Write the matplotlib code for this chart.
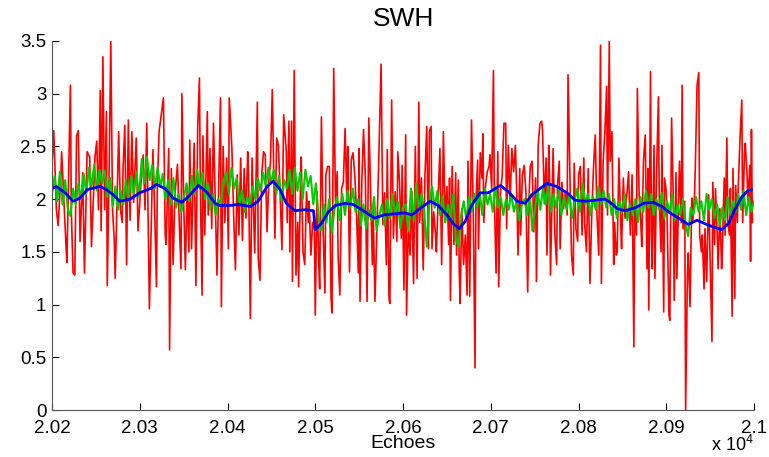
import numpy as np
import matplotlib.pyplot as plt

plt.rcParams['font.family'] = ['Liberation Sans', 'DejaVu Sans']
plt.rcParams['mathtext.default'] = 'regular'

# red series : (echo, SWH) pairs
red_x = [20200, 20202, 20205, 20207, 20210, 20211, 20216, 20217, 20221, 20222,
         20224, 20226, 20228, 20230, 20232, 20235, 20237, 20240, 20243, 20245,
         20249, 20251, 20253, 20255, 20256, 20258, 20260, 20262, 20263, 20265,
         20267, 20269, 20271, 20272, 20276, 20278, 20280, 20281, 20283, 20285,
         20287, 20289, 20291, 20293, 20296, 20298, 20301, 20304, 20306, 20308,
         20311, 20315, 20317, 20319, 20320, 20322,
         20327, 20329, 20330, 20333, 20334, 20336, 20338, 20340, 20343, 20345,
         20347, 20348, 20350, 20352, 20354, 20356, 20357, 20359, 20362, 20364,
         20366, 20368, 20369, 20371, 20372, 20374, 20377, 20378, 20380, 20382,
         20384, 20386, 20388, 20390, 20392, 20393, 20395, 20397, 20399, 20401,
         20402, 20405, 20407, 20409, 20411, 20413, 20415, 20417, 20419, 20421,
         20423, 20424, 20426, 20428, 20430, 20431, 20434, 20435, 20437, 20439,
         20441, 20443, 20445, 20447, 20449, 20451, 20454, 20456, 20458, 20460,
         20462, 20464,
         20467, 20468, 20470, 20471, 20473, 20474, 20476, 20478, 20480, 20481,
         20483, 20484, 20486, 20488, 20490, 20492, 20493, 20495, 20497, 20499,
         20500, 20502, 20504, 20505, 20507, 20509, 20511, 20512, 20514, 20516,
         20518, 20519, 20521, 20523, 20525, 20526, 20528, 20530, 20532, 20534,
         20536, 20537, 20539, 20541, 20543, 20545, 20547, 20549, 20550, 20551,
         20553, 20555, 20557, 20559, 20561, 20563, 20565, 20566, 20568, 20570,
         20572, 20575, 20577, 20579, 20581, 20582, 20584, 20585, 20587, 20589,
         20591, 20593, 20594, 20596, 20598, 20599, 20601,
         20603, 20604, 20606, 20608, 20610, 20612, 20614, 20616, 20618, 20619,
         20621, 20623, 20625, 20627, 20629, 20630, 20632, 20633, 20635, 20637,
         20638, 20640, 20642, 20644, 20646, 20648, 20650, 20652, 20653, 20654,
         20656, 20658, 20660, 20661, 20663, 20664, 20665, 20667, 20669, 20671,
         20673, 20674, 20676, 20678, 20680, 20682, 20683, 20685, 20686, 20688,
         20690, 20691, 20692, 20694, 20696, 20698, 20699, 20701, 20703, 20704,
         20706, 20708, 20709, 20711, 20713, 20715, 20717, 20718, 20720, 20722,
         20724, 20726, 20728, 20730, 20731, 20733, 20734, 20736, 20738,
         20740, 20742, 20744, 20745, 20747, 20749, 20751, 20752, 20754, 20756,
         20758, 20759, 20761, 20763, 20764, 20766, 20767, 20768, 20770, 20771,
         20773, 20775, 20776, 20778, 20779, 20781, 20783, 20785, 20787, 20788,
         20790, 20792, 20794, 20795, 20797, 20799, 20800, 20802, 20804, 20806,
         20807, 20809, 20811, 20813, 20815, 20817, 20819, 20821, 20823, 20825,
         20826, 20828, 20830, 20832, 20833, 20835, 20836, 20838, 20840, 20841,
         20843, 20844, 20846, 20848, 20849, 20851, 20853, 20855, 20857, 20859,
         20861, 20863, 20864, 20866, 20867, 20869, 20871, 20872, 20874,
         20876, 20878, 20879, 20880, 20882, 20883, 20884, 20886, 20887, 20889,
         20891, 20892, 20894, 20895, 20897, 20898, 20900, 20901, 20903, 20904,
         20906, 20908, 20909, 20911, 20912, 20914, 20915, 20917, 20918, 20919,
         20921, 20922, 20924, 20925, 20927, 20929, 20930, 20932, 20933, 20935,
         20937, 20938, 20940, 20941, 20943, 20944, 20946, 20948, 20949, 20950,
         20952, 20953, 20955, 20956, 20958, 20959, 20961, 20963, 20964, 20966,
         20967, 20969, 20970, 20972, 20973, 20975, 20976, 20978, 20979, 20981,
         20982, 20984, 20986, 20987, 20989, 20990, 20992, 20993, 20995, 20996,
         20997, 20998]
red_y = [2.30, 2.65, 1.90, 1.75, 2.20, 2.45, 1.55, 1.40, 3.08, 1.90,
         1.30, 1.28, 2.60, 2.65, 1.60, 2.25, 1.30, 2.45, 2.40, 1.55,
         2.40, 2.55, 1.90, 3.03, 1.70, 3.35, 1.90, 2.83, 1.18, 2.20,
         3.50, 1.90, 1.60, 1.25, 2.64, 1.90, 1.78, 2.30, 2.70, 1.38,
         2.75, 1.80, 2.64, 1.97, 2.58, 1.70, 2.10, 2.42, 1.90, 2.72,
         0.96, 2.47, 1.90, 1.17, 2.10, 2.64,
         2.96, 1.66, 1.57, 2.48, 0.57, 2.29, 1.38, 2.03, 2.33, 1.78,
         1.34, 3.00, 1.98, 1.33, 2.10, 1.50, 2.56, 1.53, 2.53, 1.18,
         2.67, 3.15, 2.13, 1.09, 2.60, 1.66, 2.83, 1.85, 2.48, 1.72,
         2.72, 1.98, 1.28, 2.16, 2.96, 0.98, 2.50, 1.78, 2.39, 1.53,
         2.96, 2.48, 1.85, 1.33, 2.23, 1.66, 2.39, 1.61, 2.29, 1.82,
         2.45, 2.23, 0.87, 2.39, 1.78, 1.49, 2.92, 1.44, 1.23, 2.23,
         2.45, 2.42, 1.69, 2.16, 2.36, 3.04, 1.63, 2.58, 2.51, 2.04,
         1.52, 2.80,
         2.45, 1.78, 2.74, 1.50, 2.74, 1.22, 3.22, 1.28, 1.78, 1.17,
         2.07, 2.40, 1.50, 1.38, 2.07, 1.78, 1.98, 1.47, 1.78, 1.72,
         0.90, 2.07, 1.38, 1.15, 2.78, 1.69, 1.11, 2.23, 2.31, 2.31,
         1.06, 0.92, 3.24, 1.98, 2.26, 1.47, 1.09, 2.10, 2.16, 2.67,
         1.98, 2.50, 1.31, 2.37, 2.44, 2.23, 1.88, 1.30, 2.48, 1.03,
         2.16, 2.66, 2.23, 1.03, 2.77, 2.07, 1.38, 1.91, 1.03, 1.66,
         2.26, 3.28, 1.76, 2.06, 1.38, 2.47, 1.06, 1.01, 2.94, 1.63,
         2.07, 1.60, 2.45, 2.16, 1.63, 2.32, 1.14,
         2.61, 0.90, 1.76, 1.47, 2.07, 1.20, 2.50, 1.25, 2.92, 1.78,
         2.20, 1.33, 2.23, 2.69, 1.53, 2.64, 2.69, 1.53, 1.88, 1.66,
         1.50, 1.98, 2.48, 1.38, 2.64, 1.78, 2.12, 1.57, 2.20, 1.04,
         2.31, 1.57, 2.25, 1.47, 2.18, 1.34, 1.01, 1.91, 1.38, 1.66,
         1.09, 2.36, 1.08, 2.75, 1.91, 0.40, 1.94, 2.37, 1.53, 2.44,
         2.20, 2.62, 1.78, 2.13, 2.26, 2.31, 2.42, 2.10, 3.22, 2.04,
         1.30, 2.45, 1.17, 2.06, 2.23, 2.72, 2.72, 1.72, 2.51, 1.98,
         2.48, 2.26, 2.51, 1.94, 1.47, 2.29, 1.66, 2.23, 2.32,
         2.07, 1.12, 2.13, 2.31, 2.36, 1.69, 2.20, 1.22, 2.51, 2.72,
         2.74, 2.64, 1.96, 2.39, 1.47, 2.51, 2.16, 1.28, 2.10, 2.48,
         1.66, 1.38, 2.13, 2.36, 1.53, 2.16, 1.91, 2.07, 1.85, 3.18,
         2.29, 1.47, 1.28, 2.34, 1.72, 1.60, 2.23, 2.31, 1.66, 2.39,
         1.76, 1.50, 2.29, 1.20, 1.85, 2.29, 2.61, 1.85, 1.47, 3.46,
         1.20, 2.36, 2.64, 3.07, 1.85, 3.50, 2.36, 2.64, 1.38, 1.78,
         1.47, 1.50, 2.39, 1.78, 1.53, 2.20, 1.82, 2.04, 2.26, 1.66,
         2.23, 0.60, 1.98, 1.66, 3.05, 2.04, 1.76, 1.55, 2.37,
         2.61, 1.34, 2.29, 0.95, 3.21, 1.66, 1.34, 2.51, 1.25, 2.29,
         2.97, 1.98, 1.50, 2.51, 0.93, 2.20, 2.07, 1.78, 0.90, 0.85,
         2.77, 1.98, 1.04, 2.25, 1.25, 1.98, 2.36, 1.78, 3.08, 1.72,
         1.98, 0.00, 1.28, 1.49, 0.98, 2.01, 1.78, 2.01, 2.29, 3.08,
         3.20, 1.66, 1.50, 1.66, 1.15, 1.72, 1.22, 2.04, 1.76, 1.38,
         0.65, 2.16, 1.57, 2.10, 1.66, 1.34, 1.91, 1.34, 1.57, 2.20,
         1.66, 2.58, 1.78, 1.66, 2.10, 0.89, 2.29, 1.06, 2.13, 1.78,
         2.13, 2.58, 2.94, 1.78, 2.42, 2.53, 2.23, 1.94, 2.32, 1.41,
         2.66, 1.78]

# green series, evenly spaced over the echoes
green_y = [2.05, 2.22, 1.98, 2.26, 1.95, 2.18, 1.90, 1.84, 2.10, 1.95,
           2.15, 2.00, 2.24, 2.05, 2.30, 2.12, 2.33, 2.08, 2.28, 2.15,
           2.27, 2.02, 2.20, 1.93, 2.12, 1.90, 2.08, 1.95, 2.18, 1.98,
           2.22, 2.05, 2.25, 2.02, 2.38, 2.15, 2.40, 2.18, 2.32, 2.10,
           2.30, 2.12, 2.24, 2.00,
           2.18, 1.95, 2.20, 1.92, 2.05, 1.88, 2.02, 2.15, 1.98, 2.22,
           2.05, 2.28, 2.10, 2.25, 2.00, 2.15, 1.90, 2.05, 1.85, 2.00,
           1.95, 2.18, 2.25, 2.05, 2.30, 2.10, 2.20, 1.95, 2.08, 1.88,
           2.02, 1.95, 2.12, 2.00, 2.20, 2.08, 2.25, 2.12, 2.30, 2.15,
           2.28, 2.05, 2.22, 1.98, 2.18,
           2.10, 2.28, 2.05, 2.30, 2.08, 2.25, 2.00, 2.28, 2.12, 2.22,
           1.95, 2.15, 1.82, 1.70, 1.95, 1.78, 2.00, 1.68, 1.90, 2.02,
           1.80, 2.05, 1.85, 2.08, 1.92, 2.10, 1.88, 2.00, 1.75, 1.95,
           1.72, 1.90, 1.80, 2.02, 1.70, 1.85, 1.95, 1.75, 2.00, 1.82,
           2.05, 1.85, 1.98, 1.72, 1.92,
           1.95, 1.70, 2.10, 1.80, 2.15, 1.88, 2.05, 1.90, 1.55, 1.98,
           2.12, 1.92, 2.08, 1.85, 2.02, 1.78, 1.95, 1.82, 2.05, 1.62,
           1.55, 1.85, 1.98, 1.80, 2.02, 1.88, 2.05, 1.92, 2.08, 1.85,
           2.10, 1.95, 2.05, 1.88, 2.12, 1.92, 2.02, 1.85, 2.00, 1.90,
           2.05, 1.88, 1.98, 1.80, 1.95,
           2.00, 1.85, 2.05, 1.70, 1.92, 2.08, 1.90, 2.10, 1.95, 2.12,
           1.88, 2.05, 1.92, 2.08, 1.85, 2.02, 1.90, 2.05, 1.82, 1.98,
           2.10, 1.88, 2.15, 1.95, 2.05, 1.85, 2.02, 1.90, 2.12, 1.95,
           2.08, 1.92, 2.05, 1.85, 2.00, 1.82, 1.98, 1.88, 2.05, 1.80,
           1.95, 1.85, 2.00, 1.78,
           2.02, 1.88, 2.08, 1.92, 2.05, 1.85, 2.00, 1.90, 2.06, 1.82,
           1.98, 1.88, 2.04, 1.80, 1.95, 1.85, 2.00, 1.78, 1.65, 1.92,
           1.85, 2.02, 1.88, 1.98, 1.80, 2.05, 1.90, 2.00, 1.82, 1.95,
           1.75, 1.92, 1.80, 2.02, 1.85, 1.98, 1.88, 2.05, 1.90, 2.08,
           1.85, 2.02, 1.88, 1.98]
green_x = np.linspace(20200, 21000, len(green_y))

# blue smoothed curve
blue_x = [20200, 20205, 20215, 20224, 20232, 20240, 20255, 20262, 20270, 20277,
          20289, 20300, 20312, 20319, 20329, 20338, 20348, 20355, 20367, 20376,
          20386, 20391, 20403, 20412, 20426, 20435, 20445, 20452, 20460, 20467,
          20477, 20488, 20498, 20500, 20507, 20515, 20523, 20534, 20543, 20553,
          20560, 20568, 20578, 20589, 20602, 20610, 20619, 20631, 20640, 20650,
          20657, 20664, 20671, 20678, 20688, 20697, 20711, 20720, 20730, 20739,
          20748, 20764, 20775, 20787, 20796, 20807, 20819, 20830, 20836, 20844,
          20853, 20865, 20874, 20885, 20895, 20904, 20914, 20925, 20935, 20946,
          20956, 20963, 20971, 20978, 20986, 20993, 20997]
blue_y = [2.10, 2.12, 2.06, 1.98, 2.01, 2.09, 2.12, 2.09, 2.04, 1.98,
          2.00, 2.06, 2.10, 2.14, 2.10, 2.01, 1.97, 2.02, 2.13, 2.07,
          1.96, 1.94, 1.94, 1.95, 1.93, 1.98, 2.12, 2.17, 2.09, 1.96,
          1.89, 1.90, 1.89, 1.71, 1.77, 1.88, 1.94, 1.96, 1.95, 1.90,
          1.86, 1.82, 1.85, 1.86, 1.87, 1.85, 1.91, 1.98, 1.94, 1.85,
          1.77, 1.72, 1.79, 1.94, 2.06, 2.06, 2.13, 2.07, 1.98, 1.96,
          2.05, 2.15, 2.12, 2.06, 1.99, 1.98, 1.99, 2.00, 1.97, 1.91,
          1.89, 1.92, 1.96, 1.97, 1.93, 1.87, 1.82, 1.76, 1.80, 1.76,
          1.73, 1.71, 1.77, 1.90, 2.02, 2.08, 2.09]

xticks = [20200, 20300, 20400, 20500, 20600, 20700, 20800, 20900, 21000]
xlabels = ['2.02', '2.03', '2.04', '2.05', '2.06', '2.07', '2.08', '2.09', '2.1']
yticks = [0, 0.5, 1, 1.5, 2, 2.5, 3, 3.5]
ylabels = ['0', '0.5', '1', '1.5', '2', '2.5', '3', '3.5']

fig = plt.figure(figsize=(7.69, 4.57), dpi=100)
ax = fig.add_axes([0.0676, 0.1028, 0.913, 0.8075])

ax.plot(red_x, red_y, color='#ff0000', lw=1.2)
ax.plot(green_x, green_y, color='#00cc00', lw=1.5)
ax.plot(blue_x, blue_y, color='#0000ff', lw=2)

ax.set_xlim(20200, 21000)
ax.set_ylim(0, 3.5)
ax.set_xticks(xticks)
ax.set_xticklabels(xlabels)
ax.set_yticks(yticks)
ax.set_yticklabels(ylabels)
ax.tick_params(direction='in', length=5, labelsize=13.5)
ax.tick_params(axis='x', pad=7)
ax.tick_params(axis='y', pad=4)

ax.spines['top'].set_visible(False)
ax.spines['right'].set_visible(False)
for s in ['left', 'bottom']:
    ax.spines[s].set_color('#555555')

ax.set_title('SWH', fontsize=19, pad=11)
ax.set_xlabel('Echoes', fontsize=14, labelpad=-1)
fig.text(0.98, 0.004, r'x 10$^4$', fontsize=13, ha='right', va='bottom')

fig.savefig('out.png', dpi=100)
